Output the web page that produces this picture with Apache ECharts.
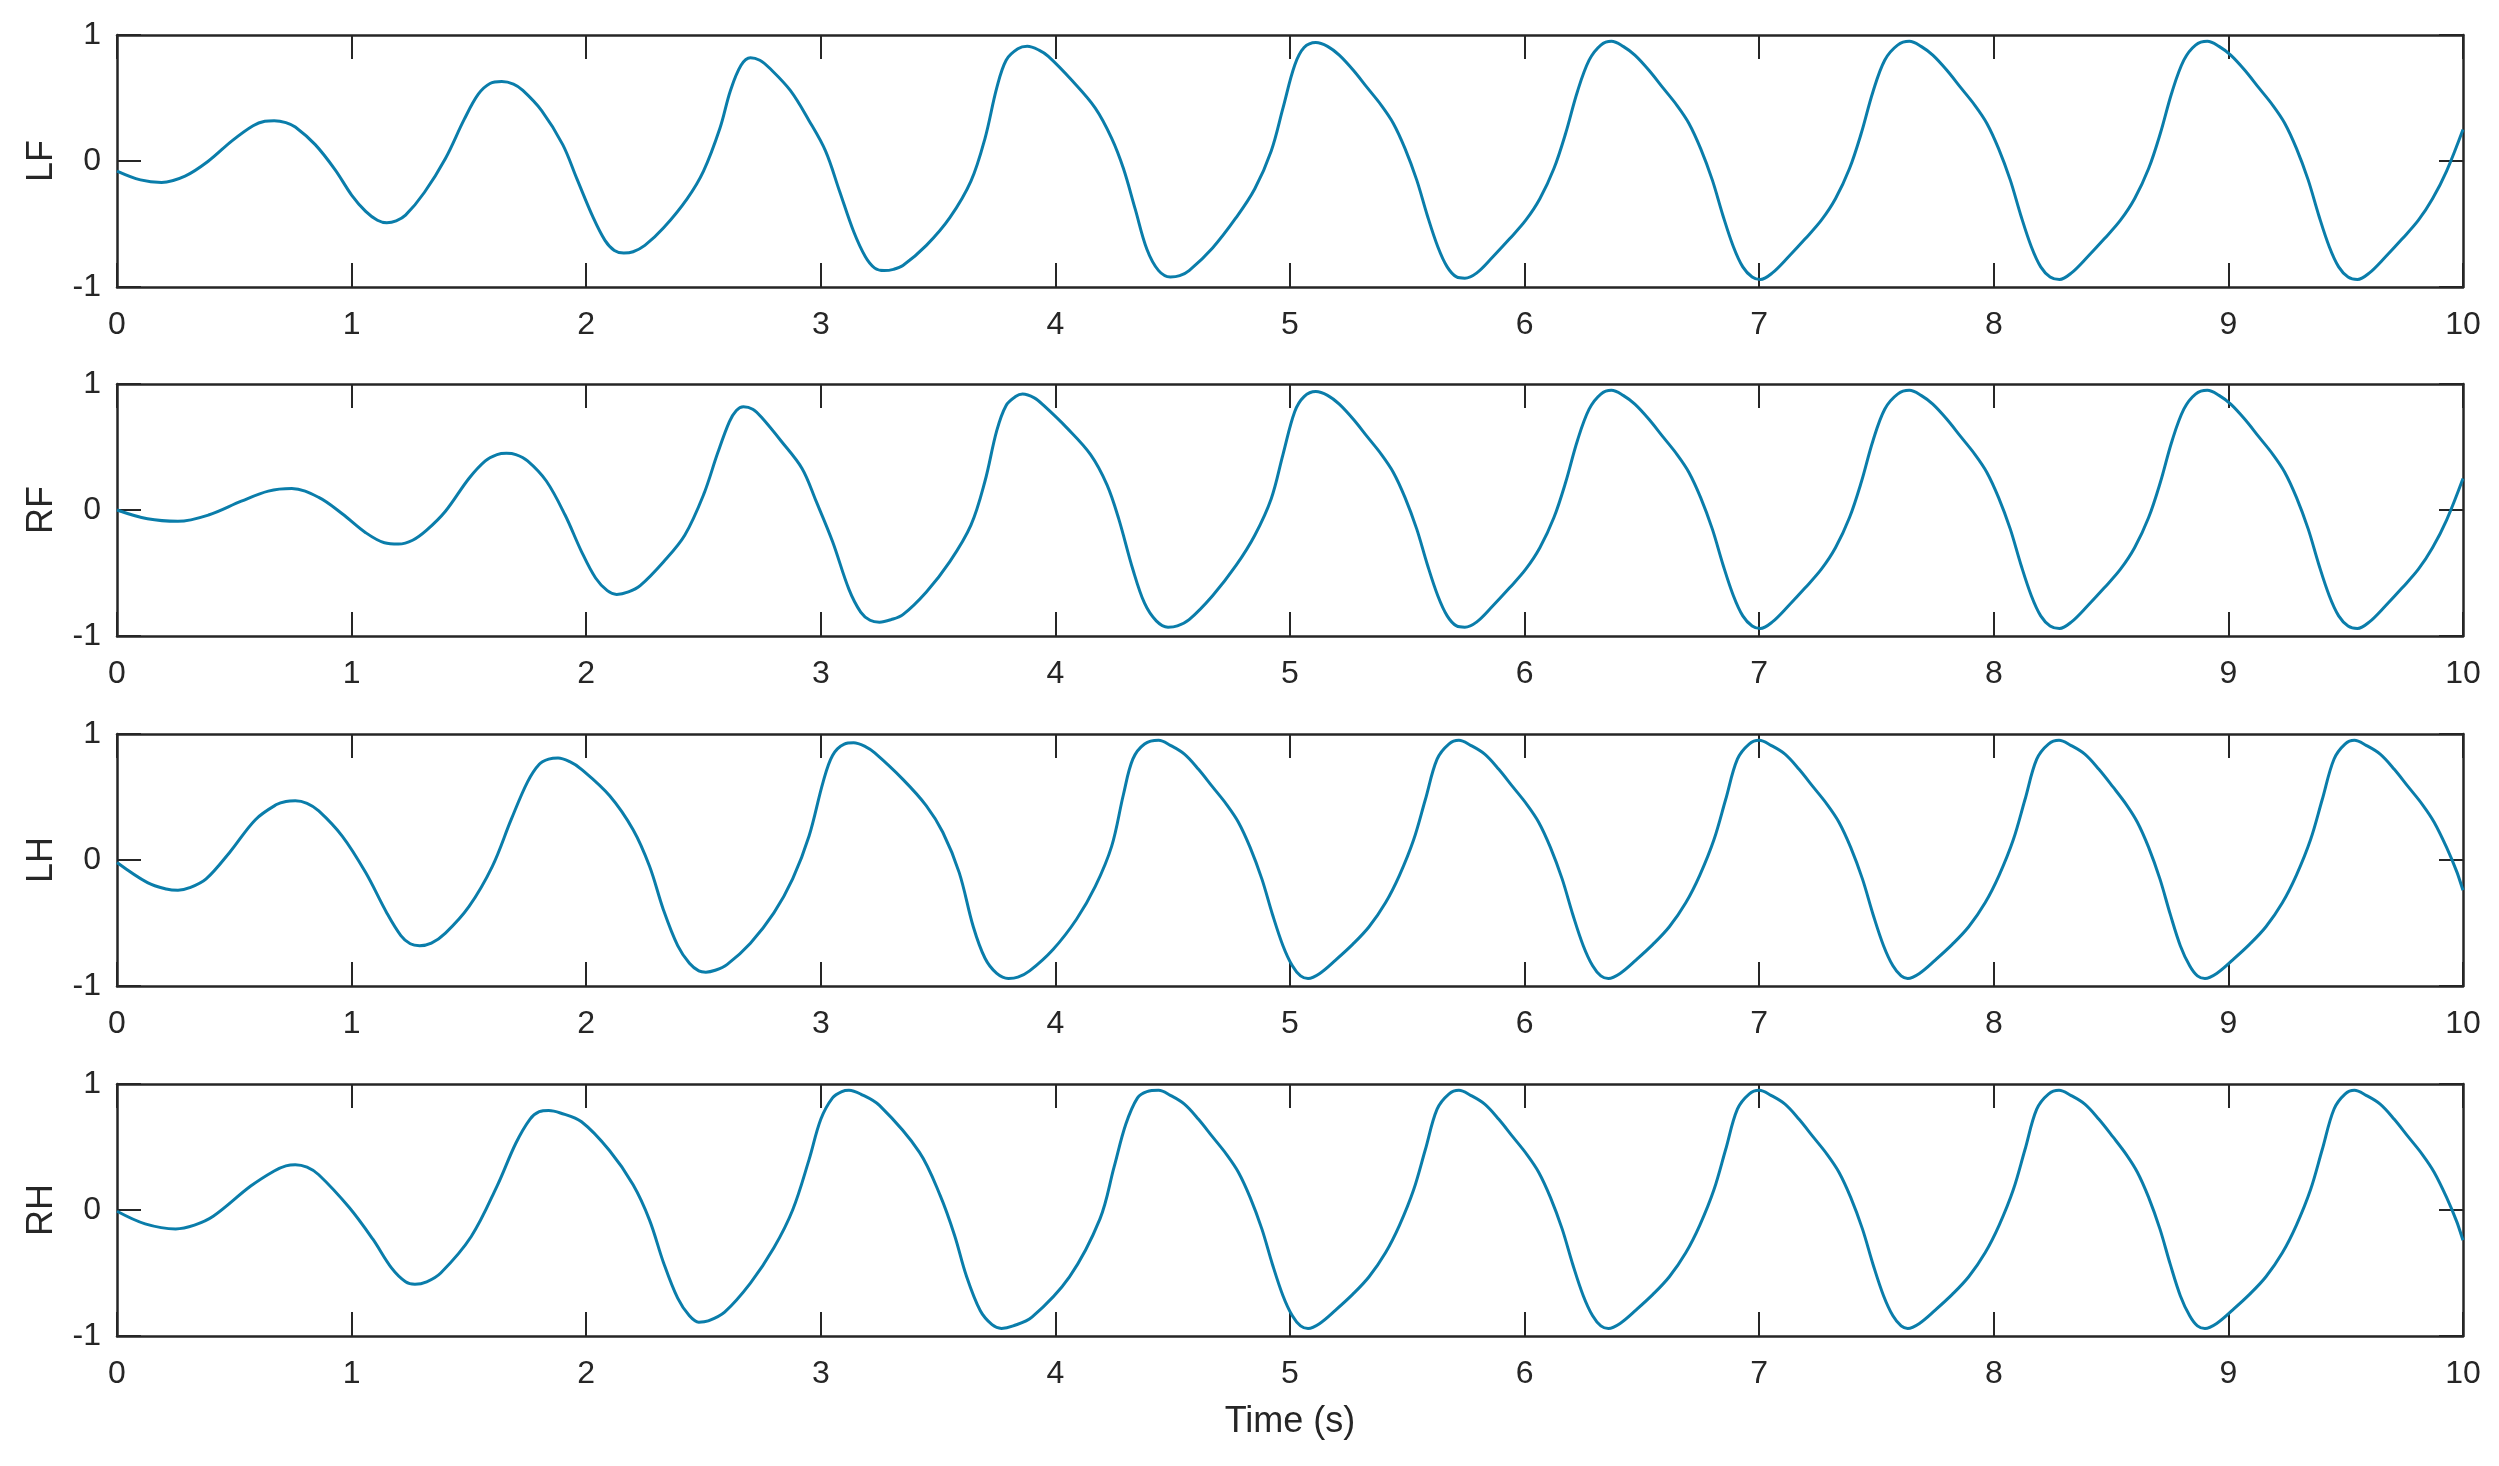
<!DOCTYPE html>
<html><head><meta charset="utf-8">
<script src="https://cdn.jsdelivr.net/npm/echarts@6/dist/echarts.min.js"></script>
<style>html,body{margin:0;padding:0;background:#fff}#c{width:2499px;height:1466px}</style>
</head><body><div id="c"></div>
<script>
// ---- data ----
const panelNames = ['LF', 'RF', 'LH', 'RH'];
const xAxisName = 'Time (s)';

// LF start-up (transient)
const lfTime = [0,0.10,0.19,0.29,0.39,0.49,0.58,0.63,0.67,0.72,0.76,0.845,0.93,1.0,1.06,1.11,1.15,1.19,1.23,1.31,1.40,1.48,1.54,1.59,1.64,1.69,1.73,1.81,1.90,1.96,2.03,2.08,2.12,2.16,2.20,2.25,2.33,2.43,2.50,2.57,2.615,2.66,2.70,2.74,2.78,2.87,2.95,3.02,3.08,3.14,3.19,3.23,3.27,3.31,3.35,3.45,3.55,3.64,3.70,3.75,3.79,3.84,3.88,3.93,3.97,4.07,4.17,4.24,4.29,4.34,4.39,4.44,4.49,4.53,4.57,4.67,4.77,4.85,4.92,4.97,5.02,5.06];
const lfValue = [-0.08,-0.15,-0.17,-0.12,0.00,0.16,0.28,0.315,0.32,0.305,0.27,0.13,-0.07,-0.27,-0.40,-0.47,-0.49,-0.475,-0.43,-0.25,0.02,0.33,0.53,0.615,0.63,0.61,0.56,0.40,0.13,-0.14,-0.45,-0.63,-0.71,-0.73,-0.72,-0.67,-0.53,-0.30,-0.08,0.26,0.56,0.76,0.82,0.80,0.74,0.56,0.32,0.08,-0.24,-0.56,-0.76,-0.85,-0.87,-0.86,-0.83,-0.67,-0.45,-0.16,0.18,0.58,0.80,0.89,0.91,0.88,0.83,0.64,0.42,0.18,-0.06,-0.38,-0.70,-0.87,-0.92,-0.91,-0.87,-0.69,-0.45,-0.22,0.08,0.42,0.76,0.90];

// RF start-up (transient)
const rfTime = [0,0.13,0.26,0.39,0.53,0.645,0.745,0.86,0.96,1.06,1.14,1.20,1.26,1.32,1.40,1.50,1.57,1.62,1.66,1.70,1.75,1.83,1.91,1.98,2.04,2.09,2.13,2.18,2.23,2.33,2.42,2.50,2.56,2.61,2.64,2.67,2.71,2.75,2.83,2.92,2.98,3.05,3.12,3.17,3.21,3.25,3.30,3.35,3.45,3.55,3.64,3.70,3.75,3.79,3.83,3.86,3.91,3.95,4.05,4.15,4.22,4.27,4.33,4.38,4.43,4.48,4.52,4.57,4.67,4.77,4.85,4.92,4.97,5.02,5.06];
const rfValue = [0.00,-0.07,-0.09,-0.04,0.07,0.15,0.17,0.10,-0.03,-0.18,-0.26,-0.27,-0.24,-0.16,-0.01,0.25,0.39,0.44,0.45,0.44,0.39,0.23,-0.04,-0.33,-0.54,-0.64,-0.67,-0.65,-0.60,-0.41,-0.20,0.12,0.45,0.70,0.79,0.82,0.80,0.73,0.55,0.33,0.07,-0.25,-0.63,-0.81,-0.875,-0.89,-0.87,-0.83,-0.65,-0.41,-0.12,0.23,0.63,0.83,0.90,0.92,0.89,0.83,0.65,0.44,0.20,-0.07,-0.47,-0.74,-0.88,-0.93,-0.92,-0.87,-0.68,-0.44,-0.20,0.09,0.44,0.78,0.90];

// LF / RF settled cycles (both legs follow the same curve from 5.1 s)
const frontTime = [5.11,5.16,5.21,5.27,5.33,5.39,5.44,5.49,5.54,5.585,5.63,5.67,5.71,5.745,
  5.795,5.865,5.935,6.005,6.065,6.125,6.175,6.225,6.275,6.325,6.37,
  6.42,6.47,6.53,6.59,6.65,6.70,6.75,6.80,6.845,6.89,6.93,6.97,7.005,
  7.055,7.125,7.195,7.265,7.325,7.385,7.435,7.485,7.535,7.59,7.64,
  7.69,7.74,7.80,7.86,7.92,7.97,8.02,8.07,8.115,8.16,8.20,8.24,8.28,
  8.33,8.40,8.47,8.54,8.60,8.66,8.71,8.76,8.81,8.86,8.91,
  8.96,9.01,9.07,9.13,9.19,9.24,9.29,9.34,9.385,9.43,9.47,9.51,9.55,
  9.60,9.67,9.74,9.81,9.87,9.93,10.0];
const frontValue = [0.94,0.91,0.84,0.72,0.58,0.44,0.30,0.10,-0.15,-0.43,-0.68,-0.84,-0.92,-0.93,
  -0.89,-0.76,-0.62,-0.47,-0.30,-0.06,0.22,0.55,0.80,0.92,0.95,
  0.91,0.84,0.72,0.58,0.44,0.30,0.10,-0.15,-0.43,-0.68,-0.84,-0.92,-0.94,
  -0.89,-0.76,-0.62,-0.47,-0.30,-0.06,0.22,0.55,0.80,0.92,0.95,
  0.91,0.84,0.72,0.58,0.44,0.30,0.10,-0.15,-0.43,-0.68,-0.84,-0.92,-0.94,
  -0.89,-0.76,-0.62,-0.47,-0.30,-0.06,0.22,0.55,0.80,0.92,0.95,
  0.91,0.84,0.72,0.58,0.44,0.30,0.10,-0.15,-0.43,-0.68,-0.84,-0.92,-0.94,
  -0.89,-0.76,-0.62,-0.47,-0.30,-0.08,0.25];

// LH start-up (transient)
const lhTime = [0,0.13,0.21,0.26,0.31,0.38,0.48,0.59,0.68,0.72,0.76,0.81,0.86,0.96,1.06,1.15,1.21,1.25,1.29,1.34,1.40,1.50,1.60,1.68,1.75,1.80,1.84,1.88,1.93,1.98,2.10,2.20,2.27,2.33,2.39,2.44,2.48,2.51,2.55,2.60,2.70,2.80,2.88,2.95,3.01,3.05,3.10,3.14,3.19,3.23,3.35,3.45,3.52,3.59,3.65,3.70,3.75,3.80,3.84,3.89,3.99,4.09,4.17,4.24,4.29,4.33,4.38];
const lhValue = [-0.02,-0.18,-0.23,-0.24,-0.22,-0.15,0.06,0.32,0.44,0.465,0.47,0.45,0.39,0.19,-0.10,-0.42,-0.60,-0.665,-0.68,-0.66,-0.58,-0.37,-0.05,0.32,0.62,0.76,0.80,0.81,0.78,0.72,0.51,0.24,-0.05,-0.40,-0.68,-0.82,-0.88,-0.89,-0.875,-0.83,-0.66,-0.42,-0.15,0.19,0.62,0.83,0.92,0.93,0.90,0.85,0.64,0.43,0.22,-0.10,-0.53,-0.78,-0.90,-0.94,-0.93,-0.88,-0.71,-0.47,-0.21,0.11,0.52,0.80,0.92];

// RH start-up (transient)
const rhTime = [0,0.12,0.25,0.33,0.41,0.57,0.67,0.72,0.76,0.81,0.86,0.99,1.09,1.17,1.23,1.27,1.32,1.38,1.51,1.62,1.70,1.76,1.80,1.84,1.89,1.98,2.10,2.20,2.27,2.33,2.39,2.44,2.48,2.52,2.59,2.70,2.80,2.88,2.95,3.00,3.05,3.09,3.12,3.17,3.25,3.42,3.51,3.57,3.62,3.68,3.73,3.77,3.82,3.90,4.06,4.19,4.25,4.30,4.35,4.39];
const rhValue = [-0.01,-0.11,-0.15,-0.12,-0.05,0.19,0.31,0.35,0.36,0.34,0.28,0.02,-0.23,-0.46,-0.57,-0.59,-0.57,-0.50,-0.21,0.19,0.53,0.72,0.78,0.79,0.77,0.70,0.47,0.20,-0.08,-0.42,-0.70,-0.84,-0.89,-0.88,-0.81,-0.58,-0.30,0.00,0.40,0.72,0.89,0.94,0.95,0.92,0.83,0.46,0.11,-0.20,-0.52,-0.80,-0.91,-0.94,-0.92,-0.85,-0.53,-0.07,0.34,0.68,0.89,0.94];

// LH / RH settled cycles (both legs follow the same curve from 4.4 s)
const hindTime = [4.44,4.49,4.55,4.61,4.67,4.73,4.78,4.83,4.88,4.925,4.97,5.01,5.045,5.077,
  5.127,5.197,5.267,5.337,5.407,5.467,5.527,5.577,5.627,5.677,5.72,
  5.77,5.83,5.89,5.95,6.01,6.06,6.11,6.16,6.205,6.25,6.29,6.325,6.357,
  6.407,6.477,6.547,6.617,6.687,6.747,6.807,6.857,6.907,6.957,7.0,
  7.05,7.11,7.17,7.23,7.29,7.34,7.39,7.44,7.485,7.53,7.57,7.605,7.633,
  7.683,7.753,7.823,7.893,7.963,8.023,8.083,8.133,8.183,8.233,8.278,
  8.328,8.388,8.448,8.508,8.565,8.612,8.66,8.708,8.752,8.795,8.835,8.868,8.90,
  8.95,9.02,9.09,9.16,9.23,9.29,9.35,9.40,9.45,9.497,9.537,
  9.587,9.647,9.707,9.767,9.827,9.877,9.93,9.975,10.0];
const hindValue = [0.95,0.91,0.84,0.72,0.58,0.44,0.30,0.10,-0.15,-0.43,-0.68,-0.84,-0.92,-0.94,
  -0.90,-0.79,-0.67,-0.53,-0.34,-0.12,0.16,0.48,0.80,0.92,0.95,
  0.91,0.84,0.72,0.58,0.44,0.30,0.10,-0.15,-0.43,-0.68,-0.84,-0.92,-0.94,
  -0.90,-0.79,-0.67,-0.53,-0.34,-0.12,0.16,0.48,0.80,0.92,0.95,
  0.91,0.84,0.72,0.58,0.44,0.30,0.10,-0.15,-0.43,-0.68,-0.84,-0.92,-0.94,
  -0.90,-0.79,-0.67,-0.53,-0.34,-0.12,0.16,0.48,0.80,0.92,0.95,
  0.91,0.84,0.72,0.58,0.44,0.30,0.10,-0.15,-0.43,-0.68,-0.84,-0.92,-0.94,
  -0.90,-0.79,-0.67,-0.53,-0.34,-0.12,0.16,0.48,0.80,0.92,0.95,
  0.91,0.84,0.72,0.58,0.44,0.30,0.10,-0.10,-0.24];

// ---- build chart ----
const panelTime = [lfTime.concat(frontTime), rfTime.concat(frontTime), lhTime.concat(hindTime), rhTime.concat(hindTime)];
const panelValue = [lfValue.concat(frontValue), rfValue.concat(frontValue), lhValue.concat(hindValue), rhValue.concat(hindValue)];

const FONT = "'Liberation Sans', Arial, Helvetica, sans-serif";
const INK = '#262626';
const LINE = '#0A7DAA';
const tops = [35, 384, 734, 1084];
const H = 252;

const grid = [], xAxis = [], yAxis = [], series = [];
const axisLine = {show: true, onZero: false, lineStyle: {color: INK, width: 2.5}};
const tick = {show: true, inside: true, length: 24, lineStyle: {color: INK, width: 2}};

panelNames.forEach((name, i) => {
  grid.push({left: 117, right: 36, top: tops[i], height: H, containLabel: false});
  const xb = {type: 'value', gridIndex: i, min: 0, max: 10, interval: 1, position: 'bottom',
    axisLine, axisTick: tick, splitLine: {show: false},
    axisLabel: {show: true, fontSize: 32, color: INK, margin: 22, fontFamily: FONT}};
  if (i === 3) {
    Object.assign(xb, {name: xAxisName, nameLocation: 'middle', nameGap: 68,
      nameTextStyle: {fontSize: 36, color: INK, fontFamily: FONT}});
  }
  xAxis.push(xb);
  xAxis.push({type: 'value', gridIndex: i, min: 0, max: 10, interval: 1, position: 'top',
    axisLine, axisTick: tick, splitLine: {show: false}, axisLabel: {show: false}});
  yAxis.push({type: 'value', gridIndex: i, min: -1, max: 1, interval: 1, position: 'left',
    axisLine, axisTick: tick, splitLine: {show: false},
    axisLabel: {show: true, fontSize: 32, color: INK, margin: 16, fontFamily: FONT},
    name: name, nameLocation: 'middle', nameGap: 57, nameRotate: 90,
    nameTextStyle: {fontSize: 36, color: INK, fontFamily: FONT}});
  yAxis.push({type: 'value', gridIndex: i, min: -1, max: 1, interval: 1, position: 'right',
    axisLine, axisTick: tick, splitLine: {show: false}, axisLabel: {show: false}});
  series.push({type: 'line', name: name, xAxisIndex: 2 * i, yAxisIndex: 2 * i,
    data: panelTime[i].map((t, k) => [t, panelValue[i][k]]),
    showSymbol: false, smooth: 0.35, lineStyle: {color: LINE, width: 3},
    itemStyle: {color: LINE}, clip: true});
});

const chart = echarts.init(document.getElementById('c'), null, {renderer: 'canvas'});
chart.setOption({backgroundColor: '#ffffff', animation: false, grid, xAxis, yAxis, series});
</script></body></html>
